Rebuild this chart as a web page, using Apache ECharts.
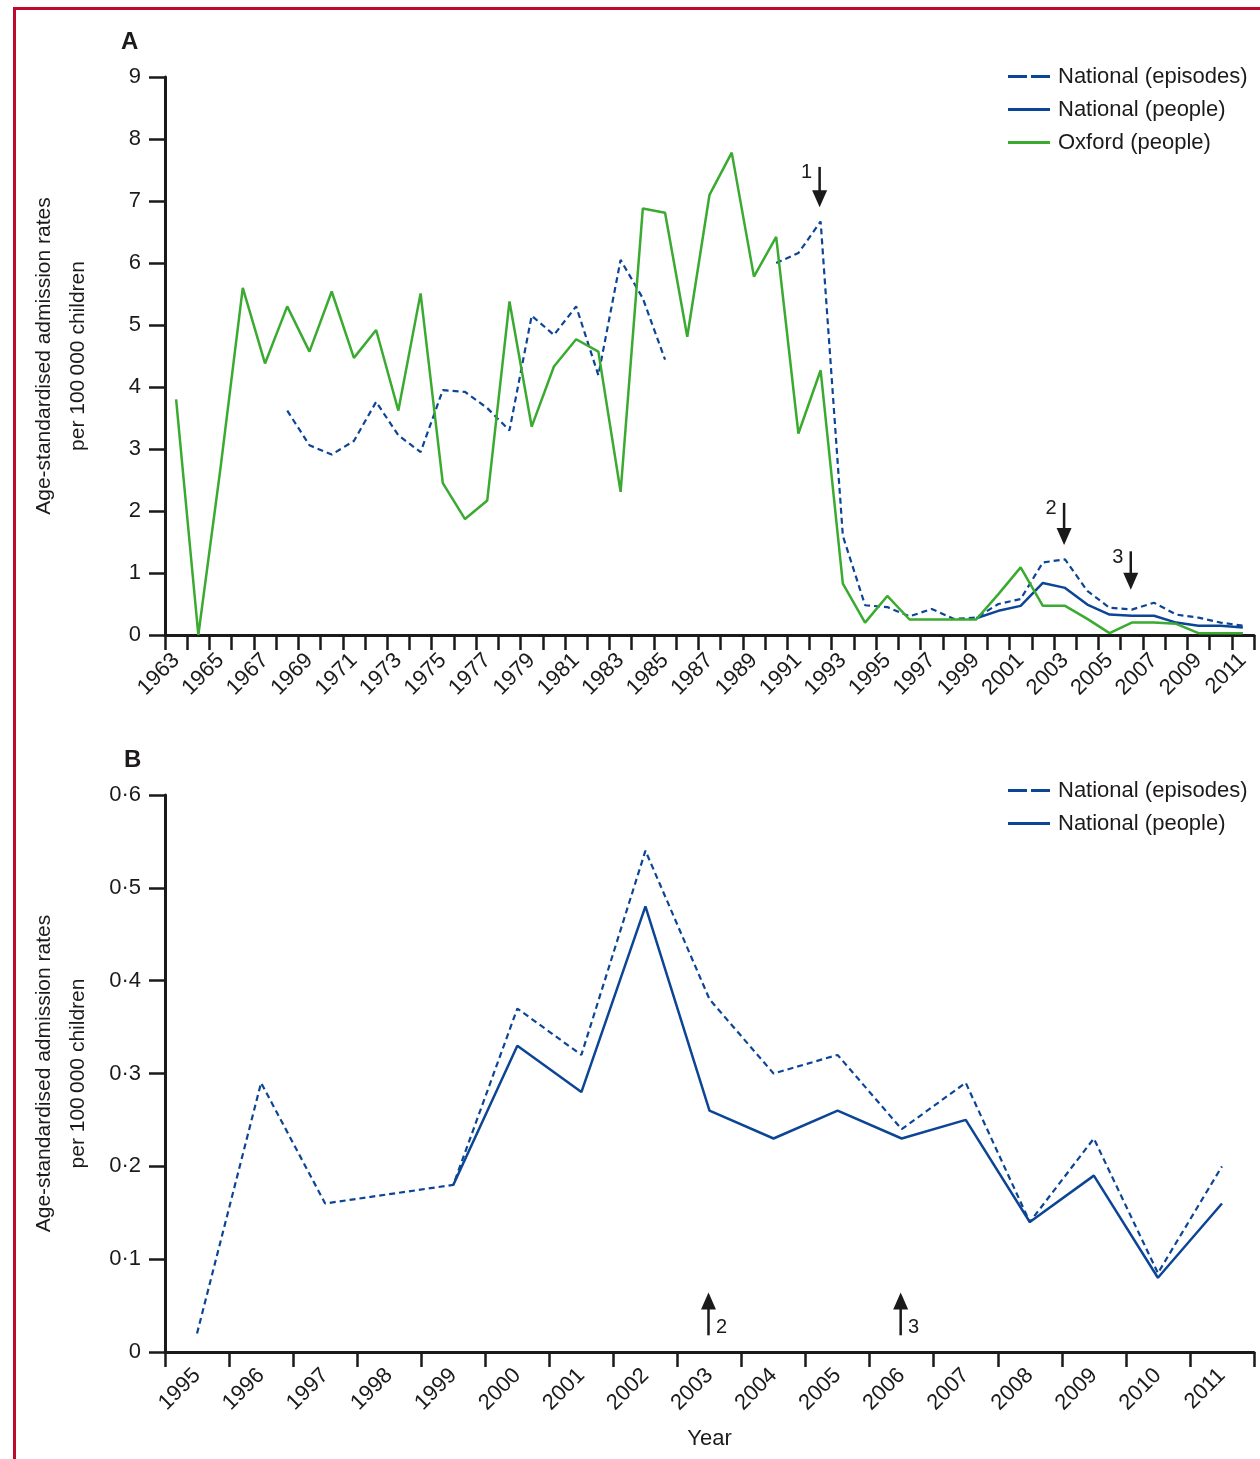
<!DOCTYPE html>
<html>
<head>
<meta charset="utf-8">
<script src="https://cdn.jsdelivr.net/npm/echarts@6/dist/echarts.min.js"></script>
<style>
  html, body { margin: 0; padding: 0; background: #ffffff; }
  #chart { width: 1260px; height: 1459px; }
</style>
</head>
<body>
<div id="chart"></div>
<script>
// ---- Panel A: 1963-2011 ----
const yearsA = ['1963','1964','1965','1966','1967','1968','1969','1970','1971','1972',
  '1973','1974','1975','1976','1977','1978','1979','1980','1981','1982',
  '1983','1984','1985','1986','1987','1988','1989','1990','1991','1992',
  '1993','1994','1995','1996','1997','1998','1999','2000','2001','2002',
  '2003','2004','2005','2006','2007','2008','2009','2010','2011'];

const nationalEpisodesA = [null, null, null, null, null, 3.62, 3.06, 2.91, 3.13, 3.76,
  3.22, 2.95, 3.95, 3.92, 3.66, 3.3, 5.15, 4.84, 5.3, 4.19,
  6.05, 5.43, 4.44, null, null, null, null, 6.0, 6.16, 6.67,
  1.6, 0.48, 0.45, 0.3, 0.42, 0.26, 0.28, 0.5, 0.58, 1.17,
  1.22, 0.71, 0.44, 0.41, 0.52, 0.33, 0.28, 0.2, 0.15];

const nationalPeopleA = [null, null, null, null, null, null, null, null, null, null,
  null, null, null, null, null, null, null, null, null, null,
  null, null, null, null, null, null, null, null, null, null,
  null, null, null, null, null, null, 0.27, 0.39, 0.47, 0.84,
  0.76, 0.49, 0.33, 0.31, 0.31, 0.2, 0.15, 0.15, 0.12];

const oxfordPeopleA = [3.8, 0, 2.7, 5.6, 4.38, 5.3, 4.57, 5.54, 4.47, 4.92,
  3.62, 5.51, 2.45, 1.87, 2.17, 5.38, 3.36, 4.33, 4.77, 4.57,
  2.31, 6.88, 6.81, 4.81, 7.1, 7.78, 5.78, 6.42, 3.25, 4.27,
  0.83, 0.2, 0.63, 0.25, 0.25, 0.25, 0.25, 0.66, 1.09, 0.47,
  0.47, 0.26, 0.03, 0.2, 0.2, 0.18, 0.03, 0.03, 0.03];

// ---- Panel B: 1995-2011 ----
const yearsB = ['1995','1996','1997','1998','1999','2000','2001','2002','2003',
  '2004','2005','2006','2007','2008','2009','2010','2011'];

const nationalEpisodesB = [0.02, 0.29, 0.16, 0.17, 0.18, 0.37, 0.32, 0.54, 0.38,
  0.30, 0.32, 0.24, 0.29, 0.14, 0.23, 0.085, 0.20];

const nationalPeopleB = [null, null, null, null, 0.18, 0.33, 0.28, 0.48, 0.26,
  0.23, 0.26, 0.23, 0.25, 0.14, 0.19, 0.08, 0.16];

// Numbered arrows: panel, year, arrow tail value, arrow tip value, label
const arrowNotes = [
  { panel: 0, year: '1992', tail: 7.55, tip: 6.9, text: '1' },
  { panel: 0, year: '2003', tail: 2.13, tip: 1.45, text: '2' },
  { panel: 0, year: '2006', tail: 1.35, tip: 0.73, text: '3' },
  { panel: 1, year: '2003', tail: 0.018, tip: 0.064, text: '2' },
  { panel: 1, year: '2006', tail: 0.018, tip: 0.064, text: '3' }
];

const BLUE = '#0c4595';
const GREEN = '#3aaa30';
const INK = '#1d1a1b';
const FONT = "'Liberation Sans', Arial, sans-serif";
const DASH_ICON = 'path://M0,0h19v3h-19z M23,0h19v3h-19z';
const SOLID_ICON = 'path://M0,0h42v3h-42z';
const DASH = [6, 4];

const yTitle = 'Age-standardised admission rates\nper 100\u2009000 children';

function xAxisFor(gridIndex, data, labelInterval, margin) {
  return {
    type: 'category', gridIndex, data, boundaryGap: true,
    axisLine: { show: true, lineStyle: { color: '#1a1a1a', width: 3 } },
    axisTick: { show: true, interval: 0, alignWithLabel: false, length: 15,
      lineStyle: { color: '#1a1a1a', width: 2.5 } },
    axisLabel: { show: true, interval: labelInterval, rotate: 45, margin, fontSize: 22,
      color: INK, fontFamily: FONT },
    splitLine: { show: false }
  };
}

function yAxisFor(gridIndex, max, interval, fmt) {
  return {
    type: 'value', gridIndex, min: 0, max, interval,
    axisLine: { show: true, lineStyle: { color: '#1a1a1a', width: 3 } },
    axisTick: { show: true, length: 16, lineStyle: { color: '#1a1a1a', width: 2.5 } },
    axisLabel: { margin: 24, fontSize: 22, color: INK, fontFamily: FONT, formatter: fmt },
    splitLine: { show: false },
    name: yTitle, nameLocation: 'middle', nameRotate: 90, nameGap: 70,
    nameTextStyle: { fontSize: 21, lineHeight: 34, color: INK, fontFamily: FONT, align: 'center' }
  };
}

const chart = echarts.init(document.getElementById('chart'), null, { renderer: 'canvas' });

const legendBase = {
  orient: 'vertical', left: 1008, itemWidth: 42, itemHeight: 3, itemGap: 0, padding: 0,
  selectedMode: false,
  textStyle: { fontSize: 22, lineHeight: 33, color: INK, fontFamily: FONT, padding: [0, 0, 0, 3] }
};

chart.setOption({
  animation: false,
  backgroundColor: '#ffffff',
  grid: [
    { left: 165, top: 77, width: 1089, height: 558 },
    { left: 165, top: 795, width: 1089, height: 557 }
  ],
  xAxis: [
    xAxisFor(0, yearsA, 1, 22),
    Object.assign(xAxisFor(1, yearsB, 0, 20), {
      name: 'Year', nameLocation: 'middle', nameGap: 76,
      nameTextStyle: { fontSize: 22, color: INK, fontFamily: FONT }
    })
  ],
  yAxis: [
    yAxisFor(0, 9, 1, v => String(v)),
    yAxisFor(1, 0.6, 0.1, v => (v === 0 ? '0' : v.toFixed(1).replace('.', '\u00b7')))
  ],
  legend: [
    Object.assign({}, legendBase, {
      top: 60,
      data: [
        { name: 'National (episodes)', icon: DASH_ICON },
        { name: 'National (people)', icon: SOLID_ICON },
        { name: 'Oxford (people)', icon: SOLID_ICON }
      ]
    }),
    Object.assign({}, legendBase, {
      top: 774,
      data: [
        { name: 'National (episodes)', icon: DASH_ICON },
        { name: 'National (people)', icon: SOLID_ICON }
      ]
    })
  ],
  series: [
    { name: 'National (episodes)', type: 'line', xAxisIndex: 0, yAxisIndex: 0, data: nationalEpisodesA,
      symbol: 'none', connectNulls: false, itemStyle: { color: BLUE },
      lineStyle: { color: BLUE, width: 2.2, type: DASH }, z: 2 },
    { name: 'National (people)', type: 'line', xAxisIndex: 0, yAxisIndex: 0, data: nationalPeopleA,
      symbol: 'none', connectNulls: false, itemStyle: { color: BLUE },
      lineStyle: { color: BLUE, width: 2.5 }, z: 2 },
    { name: 'Oxford (people)', type: 'line', xAxisIndex: 0, yAxisIndex: 0, data: oxfordPeopleA,
      symbol: 'none', itemStyle: { color: GREEN },
      lineStyle: { color: GREEN, width: 2.5 }, z: 3 },
    { name: 'National (episodes)', type: 'line', xAxisIndex: 1, yAxisIndex: 1, data: nationalEpisodesB,
      symbol: 'none', itemStyle: { color: BLUE },
      lineStyle: { color: BLUE, width: 2.2, type: DASH }, z: 2 },
    { name: 'National (people)', type: 'line', xAxisIndex: 1, yAxisIndex: 1, data: nationalPeopleB,
      symbol: 'none', connectNulls: false, itemStyle: { color: BLUE },
      lineStyle: { color: BLUE, width: 2.5 }, z: 2 }
  ]
});

// Frame, panel letters and numbered arrows
const graphics = [
  { type: 'line', shape: { x1: 14.5, y1: 7, x2: 14.5, y2: 1459 }, style: { stroke: '#bd0a2e', lineWidth: 3 }, silent: true },
  { type: 'line', shape: { x1: 13, y1: 8.5, x2: 1260, y2: 8.5 }, style: { stroke: '#bd0a2e', lineWidth: 3 }, silent: true },
  { type: 'text', left: 121, top: 30, style: { text: 'A', font: "bold 24px " + FONT, fill: INK } },
  { type: 'text', left: 124, top: 748, style: { text: 'B', font: "bold 24px " + FONT, fill: INK } }
];

arrowNotes.forEach(a => {
  const ref = { xAxisIndex: a.panel, yAxisIndex: a.panel };
  const pTail = chart.convertToPixel(ref, [a.year, a.tail]);
  const pTip = chart.convertToPixel(ref, [a.year, a.tip]);
  const x = pTail[0] - 1;
  const down = pTip[1] > pTail[1];
  const dir = down ? 1 : -1;
  const headLen = 17, headHalf = 7.5;
  graphics.push({
    type: 'line', silent: true,
    shape: { x1: x, y1: pTail[1], x2: x, y2: pTip[1] - dir * (headLen - 2) },
    style: { stroke: '#1a1a1a', lineWidth: 2.5 }
  });
  graphics.push({
    type: 'polygon', silent: true,
    shape: { points: [[x - headHalf, pTip[1] - dir * headLen], [x + headHalf, pTip[1] - dir * headLen], [x, pTip[1]]] },
    style: { fill: '#1a1a1a' }
  });
  graphics.push({
    type: 'text', silent: true,
    x: down ? x - 13 : x + 13,
    y: down ? pTail[1] + 6 : pTail[1] - 8,
    style: { text: a.text, font: '20px ' + FONT, fill: INK, align: 'center', verticalAlign: 'middle' }
  });
});

chart.setOption({ graphic: graphics });
</script>
</body>
</html>
